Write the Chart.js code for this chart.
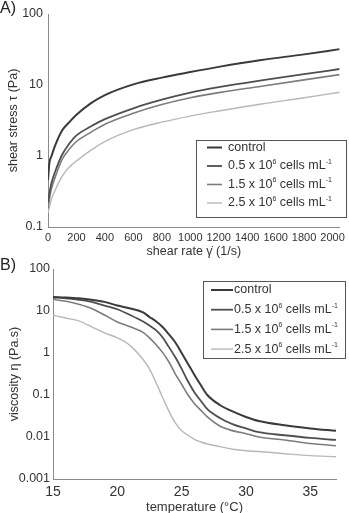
<!DOCTYPE html>
<html>
<head>
<meta charset="utf-8">
<script src="https://cdn.jsdelivr.net/npm/chart.js@4.4.1/dist/chart.umd.min.js"></script>
<style>
  body { margin: 0; background: #fff; width: 349px; height: 513px; overflow: hidden; position: relative; font-family: "Liberation Sans", Arial, sans-serif; }
  .panel { position: absolute; left: 0; width: 349px; }
  #wrapA { top: 0; height: 258px; }
  #wrapB { top: 256px; height: 257px; }
  .tag { position: absolute; left: 0; font-size: 16px; line-height: 16px; color: #222; }
</style>
</head>
<body>
<div class="panel" id="wrapA"><canvas id="chartA" width="349" height="258"></canvas></div>
<div class="panel" id="wrapB"><canvas id="chartB" width="349" height="257"></canvas></div>
<div class="tag" style="top:0">A)</div>
<div class="tag" style="top:257px">B)</div>
<script>
// series names (^{..} = superscript)
const seriesLabels = ['control', '0.5 x 10^{6} cells mL^{-1}', '1.5 x 10^{6} cells mL^{-1}', '2.5 x 10^{6} cells mL^{-1}']

// A) shear stress vs shear rate
const shearRate = [0, 10, 25, 50, 100, 150, 200, 300, 400, 600, 800, 1000, 1200, 1500, 1800, 2050]
const stressControl = [0.46, 0.8, 1.0, 1.4, 2.3, 3.0, 3.8, 5.5, 7.2, 10.2, 12.7, 15.2, 18, 22.5, 27, 32]
const stress05 = [0.22, 0.3, 0.42, 0.6, 1.05, 1.5, 1.95, 2.6, 3.3, 4.7, 6.2, 7.8, 9.3, 11.6, 14.2, 16.8]
const stress15 = [0.185, 0.25, 0.35, 0.5, 0.9, 1.25, 1.6, 2.15, 2.8, 4.0, 5.3, 6.6, 7.8, 9.6, 11.8, 14]
const stress25 = [0.157, 0.19, 0.25, 0.33, 0.52, 0.7, 0.85, 1.2, 1.6, 2.35, 3.0, 3.65, 4.3, 5.4, 6.6, 7.9]
const rateTicks = [0, 200, 400, 600, 800, 1000, 1200, 1400, 1600, 1800, 2000]
const stressTicks = [0.1, 1, 10, 100]

// B) viscosity vs temperature
const temperature = [15, 16, 17, 18, 19, 20, 21, 22, 22.5, 23, 23.5, 24, 24.5, 25, 25.5, 26, 26.5, 27, 28, 29, 30, 31, 33, 35, 37]
const viscControl = [21, 21, 20, 18.5, 16.5, 13.5, 11.5, 9.3, 7.2, 5.7, 4.2, 2.8, 1.8, 1.0, 0.55, 0.3, 0.17, 0.1, 0.057, 0.04, 0.03, 0.024, 0.019, 0.016, 0.014]
const visc05 = [22, 20, 18.5, 16.5, 13.5, 11, 8.0, 5.6, 4.5, 3.5, 2.4, 1.4, 0.8, 0.42, 0.21, 0.115, 0.072, 0.046, 0.028, 0.02, 0.016, 0.013, 0.011, 0.0095, 0.0085]
const visc15 = [19, 17, 14.5, 11.5, 8.0, 5.5, 4.2, 3.1, 2.3, 1.6, 1.05, 0.62, 0.32, 0.18, 0.1, 0.062, 0.043, 0.03, 0.018, 0.014, 0.012, 0.01, 0.0085, 0.007, 0.0062]
const visc25 = [8.0, 6.8, 5.8, 4.2, 3.0, 2.3, 1.5, 0.7, 0.42, 0.2, 0.09, 0.042, 0.022, 0.014, 0.011, 0.0088, 0.0076, 0.0068, 0.0059, 0.0051, 0.0047, 0.0045, 0.004, 0.0036, 0.0034]
const tempTicks = [15, 20, 25, 30, 35]
const viscTicks = [0.001, 0.01, 0.1, 1, 10, 100]

const lineColors = ['#3a3a3a', '#4f4f4f', '#7c7c7c', '#b8b8b8']
const lineWidths = [2, 1.8, 1.6, 1.4]
const FONT = '"Liberation Sans", Arial, sans-serif'

// draws text with ^{...} parts as superscripts
function drawRich(ctx, text, x, y, size) {
  const parts = text.split(/(\^\{[^}]*\})/)
  ctx.textBaseline = 'middle'
  ctx.textAlign = 'left'
  parts.forEach(p => {
    if (!p) return
    if (p.startsWith('^{')) {
      const s = p.slice(2, -1)
      ctx.font = Math.round(size * 0.58) + 'px ' + FONT
      ctx.fillText(s, x, y - size * 0.33)
      x += ctx.measureText(s).width
    } else {
      ctx.font = size + 'px ' + FONT
      ctx.fillText(p, x, y)
      x += ctx.measureText(p).width
    }
  })
}

const boxLegend = {
  id: 'boxLegend',
  afterDraw(chart, args, o) {
    const ctx = chart.ctx
    ctx.save()
    ctx.fillStyle = '#fff'
    ctx.fillRect(o.x, o.y, o.w, o.h)
    ctx.strokeStyle = '#555'
    ctx.lineWidth = 1
    ctx.strokeRect(o.x + 0.5, o.y + 0.5, o.w, o.h)
    chart.data.datasets.forEach((ds, i) => {
      const y = o.y + o.first + i * o.step
      ctx.strokeStyle = ds.borderColor
      ctx.lineWidth = ds.borderWidth
      ctx.beginPath()
      ctx.moveTo(o.x + o.lineStart, y)
      ctx.lineTo(o.x + o.lineEnd, y)
      ctx.stroke()
      ctx.fillStyle = '#333'
      drawRich(ctx, ds.label, o.x + o.textStart, y, o.size)
    })
    ctx.restore()
  }
}

function makeDatasets(xs, series) {
  return series.map((vals, i) => ({
    label: seriesLabels[i],
    data: xs.map((x, j) => ({ x: x, y: vals[j] })),
    borderColor: lineColors[i],
    borderWidth: lineWidths[i],
    pointRadius: 0,
    fill: false,
    cubicInterpolationMode: 'monotone'
  }))
}

function axis(opts) {
  return {
    type: opts.type,
    min: opts.min,
    max: opts.max,
    grid: { display: false, drawTicks: false },
    border: { display: true, color: '#8a8a8a', width: 1 },
    afterBuildTicks: sc => { sc.ticks = opts.ticks.map(v => ({ value: v })) },
    ticks: {
      autoSkip: false, maxRotation: 0, color: '#333', padding: opts.pad,
      font: { family: FONT, size: opts.tickSize },
      callback: v => String(v)
    },
    title: {
      display: true, text: opts.title, color: '#333',
      font: { family: FONT, size: opts.titleSize },
      padding: opts.titlePad
    },
    afterFit: opts.fit
  }
}

Chart.defaults.animation = false

new Chart(document.getElementById('chartA'), {
  type: 'line',
  data: { datasets: makeDatasets(shearRate, [stressControl, stress05, stress15, stress25]) },
  plugins: [boxLegend],
  options: {
    responsive: false,
    layout: { padding: { left: 0, top: 14, right: 9, bottom: 0 } },
    plugins: {
      legend: { display: false },
      tooltip: { enabled: false },
      boxLegend: { x: 196, y: 140, w: 150, h: 77, first: 7.5, step: 18.5, lineStart: 11, lineEnd: 26, textStart: 32, size: 12.5 }
    },
    scales: {
      x: axis({ type: 'linear', min: 0, max: 2050, ticks: rateTicks, pad: 4, tickSize: 11,
        title: 'shear rate \u03b3\u0307 (1/s)', titleSize: 12.5, titlePad: { top: 0, bottom: -1 },
        fit: s => { s.height = 31 } }),
      y: axis({ type: 'logarithmic', min: 0.1, max: 100, ticks: stressTicks, pad: 5, tickSize: 12.5,
        title: 'shear stress \u03c4 (Pa)', titleSize: 12.5, titlePad: { top: 6, bottom: 0 },
        fit: s => { s.width = 48 } })
    }
  }
})

new Chart(document.getElementById('chartB'), {
  type: 'line',
  data: { datasets: makeDatasets(temperature, [viscControl, visc05, visc15, visc25]) },
  plugins: [boxLegend],
  options: {
    responsive: false,
    layout: { padding: { left: 0, top: 13, right: 13, bottom: 0 } },
    plugins: {
      legend: { display: false },
      tooltip: { enabled: false },
      boxLegend: { x: 203, y: 25, w: 142, h: 77, first: 9, step: 19.7, lineStart: 8, lineEnd: 30, textStart: 31, size: 12.5 }
    },
    scales: {
      x: axis({ type: 'linear', min: 15, max: 37, ticks: tempTicks, pad: 5, tickSize: 14,
        title: 'temperature (\u00b0C)', titleSize: 13, titlePad: { top: 0, bottom: -2 },
        fit: s => { s.height = 34 } }),
      y: axis({ type: 'logarithmic', min: 0.001, max: 100, ticks: viscTicks, pad: 3, tickSize: 12.5,
        title: 'viscosity \u03b7 (Pa.s)', titleSize: 12.5, titlePad: { top: 7, bottom: 0 },
        fit: s => { s.width = 53 } })
    }
  }
})
</script>
</body>
</html>
